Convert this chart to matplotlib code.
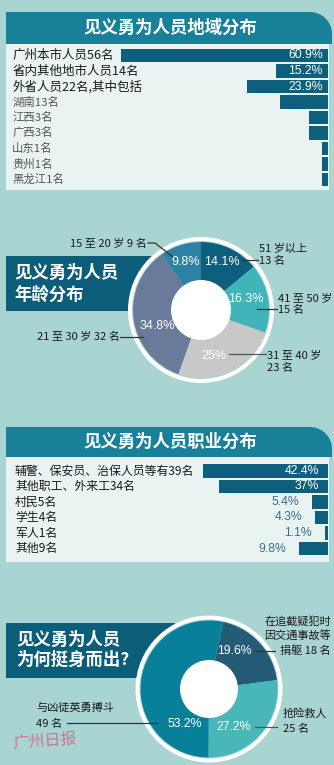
import numpy as np
import matplotlib
matplotlib.use('Agg')
import matplotlib.pyplot as plt
from matplotlib.patches import Rectangle, Circle, Polygon
from matplotlib.transforms import blended_transform_factory

plt.rcParams['font.family'] = ['Noto Sans CJK SC', 'DejaVu Sans']

W, H = 334, 765

BG = '#a8d4d2'
LIGHT = '#e8f3f2'
BAND = '#19809a'
BAR = '#0e5f7b'
BOX = '#0b5d7a'
TXT = '#1a1a1a'
NUM = ['Liberation Sans', 'DejaVu Sans']

# 见义勇为人员地域分布
region_labels = ['广州本市人员56名', '省内其他地市人员14名', '外省人员22名,其中包括',
                 '湖南13名', '江西3名', '广西3名', '山东1名', '贵州1名', '黑龙江1名']
region_bar = [60.9, 15.2, 23.9, 14.1, 5.5, 5.5, 1.8, 1.8, 1.8]
region_pct = ['60.9%', '15.2%', '23.9%', '', '', '', '', '', '']
region_main = [True, True, True, False, False, False, False, False, False]

# 见义勇为人员年龄分布
age_vals = [14.1, 16.3, 25.0, 34.8, 9.8]
age_pct = ['14.1%', '16.3%', '25%', '34.8%', '9.8%']
age_labels = ['51 岁以上\n13 名', '41 至 50 岁\n15 名', '31 至 40 岁\n23 名',
              '21 至 30 岁 32 名', '15 至 20 岁 9 名']
age_colors = ['#0d5f7d', '#40b4b8', '#c8c8c8', '#6a7a9b', '#2c82a3']

# 见义勇为人员职业分布
job_labels = ['辅警、保安员、治保人员等有39名', '其他职工、外来工34名', '村民5名',
              '学生4名', '军人1名', '其他9名']
job_vals = [42.4, 37.0, 5.4, 4.3, 1.1, 9.8]
job_pct = ['42.4%', '37%', '5.4%', '4.3%', '1.1%', '9.8%']

# 见义勇为人员为何挺身而出
why_vals = [19.6, 27.2, 53.2]
why_pct = ['19.6%', '27.2%', '53.2%']
why_labels = ['在追截疑犯时\n因交通事故等\n捐躯 18 名', '抢险救人\n25 名', '与凶徒英勇搏斗\n49 名']
why_colors = ['#235c74', '#48b7ba', '#09809a']


def fig_rect(x0, y0, x1, y1):
    # pixel box (y down) -> figure fraction
    return [x0 / W, 1 - y1 / H, (x1 - x0) / W, (y1 - y0) / H]


def band(ax, x0, y0, x1, y1, r=22):
    t = np.linspace(np.pi / 2, 0, 20)
    arc = np.column_stack([x1 - r + r * np.cos(t), y0 + r - r * np.sin(t)])
    pts = np.vstack([[x0, y1], [x0, y0], arc, [x1, y1]])
    ax.add_patch(Polygon(pts, closed=True, color=BAND, lw=0))


fig = plt.figure(figsize=(W / 100, H / 100), dpi=100, facecolor=BG)

# background layer: bands, panels, title boxes
bg = fig.add_axes([0, 0, 1, 1])
bg.set_xlim(0, W)
bg.set_ylim(H, 0)
bg.axis('off')

bg.add_patch(Rectangle((6, 44), 323, 146, color=LIGHT, lw=0))
band(bg, 6, 12, 332, 44)
bg.text(170, 28, '见义勇为人员地域分布', color='white', fontsize=12.5, fontweight='bold',
        ha='center', va='center')

bg.add_patch(Rectangle((6, 457), 323, 105, color=LIGHT, lw=0))
band(bg, 6, 427, 332, 457)
bg.text(170, 442, '见义勇为人员职业分布', color='white', fontsize=12.5, fontweight='bold',
        ha='center', va='center')

bg.add_patch(Rectangle((6, 256), 154, 55, color=BOX, lw=0))
bg.text(14, 273, '见义勇为人员', color='white', fontsize=12.5, fontweight='bold', va='center')
bg.text(14, 295, '年龄分布', color='white', fontsize=12.5, fontweight='bold', va='center')

bg.add_patch(Rectangle((6, 623), 169, 55, color=BOX, lw=0))
bg.text(16, 640, '见义勇为人员', color='white', fontsize=12.5, fontweight='bold', va='center')
bg.text(16, 660, '为何挺身而出?', color='white', fontsize=12.5, fontweight='bold', va='center')

bg.text(12, 741, '广州日报', color='#d8607a', fontsize=11.5, alpha=0.8, va='center',
        rotation=4)


def bar_panel(row0, n, xmax):
    step = 15.5
    ax = fig.add_axes(fig_rect(6, row0 - step / 2, 328, row0 + step * (n - 0.5)))
    ax.set_xlim(xmax, 0)
    ax.set_ylim(n - 0.5, -0.5)
    ax.axis('off')
    return ax


# panel 1
ax1 = bar_panel(55.5, len(region_labels), 322 / 3.4)
ax1.barh(range(len(region_bar)), region_bar, height=0.84, color=BAR, lw=0)
tr1 = blended_transform_factory(ax1.transAxes, ax1.transData)
for i, (lab, main) in enumerate(zip(region_labels, region_main)):
    if main:
        ax1.text(0.019, i, lab, transform=tr1, fontsize=9, color=TXT, va='center')
    else:
        ax1.text(0.019, i, lab, transform=tr1, fontsize=8.2, color='#555555', va='center')
    if region_pct[i]:
        ax1.text(1.5, i, region_pct[i], fontsize=8.8, color='white', ha='right',
                 va='center', family=NUM)

# panel 3
ax3 = bar_panel(471, len(job_labels), 322 / 2.95)
ax3.barh(range(len(job_vals)), job_vals, height=0.84, color=BAR, lw=0)
tr3 = blended_transform_factory(ax3.transAxes, ax3.transData)
for i, (lab, v) in enumerate(zip(job_labels, job_vals)):
    ax3.text(0.028, i, lab, transform=tr3, fontsize=8.6, color=TXT, va='center')
    if v > 20:
        ax3.text(3.0, i, job_pct[i], fontsize=8.8, color='white', ha='right',
                 va='center', family=NUM)
    else:
        ax3.text(v + 4.5, i, job_pct[i], fontsize=8.8, color='#3b6e8c', ha='right',
                 va='center', family=NUM)


def donut(cx, cy, R, hole, vals, colors, start):
    ax = fig.add_axes(fig_rect(cx - 80, cy - 80, cx + 80, cy + 80))
    ax.add_patch(Circle((0, 0), R + 5, color='white', lw=0))
    ax.add_patch(Circle((0, 0), R + 1, color=BG, lw=0))
    ax.add_patch(Circle((0, 0), hole + 1, color='white', lw=0, zorder=3))
    ax.pie(vals, colors=colors, radius=R, startangle=start, counterclock=False,
           wedgeprops=dict(width=R - hole, linewidth=0))
    ax.set_xlim(-80, 80)
    ax.set_ylim(-80, 80)
    ax.axis('off')
    return ax


def outer_label(ax, x, y, text, ha='left', step=13):
    for k, line in enumerate(text.split('\n')):
        ax.text(x, y - k * step, line, fontsize=8, color=TXT, ha=ha, va='center')


def leader(ax, xs, ys, color='#333333'):
    ax.plot(xs, ys, color=color, lw=0.9, clip_on=False)


# panel 2
ax2 = donut(201, 310, 68, 29, age_vals, age_colors, 90)
age_pct_pos = [(21, 48), (45, 11), (13, -46), (-44, -16), (-15.5, 48)]
for (x, y), t in zip(age_pct_pos, age_pct):
    ax2.text(x, y, t, fontsize=9, color='white', ha='center', va='center', family=NUM)
outer_label(ax2, 58, 62, age_labels[0])
leader(ax2, [41, 57], [50, 50])
outer_label(ax2, 77, 12, age_labels[1], step=12)
leader(ax2, [56, 76], [1, 1])
outer_label(ax2, 66, -45, age_labels[2])
leader(ax2, [28, 65], [-44, -44], color='#555555')
outer_label(ax2, -81, -27, age_labels[3], ha='right')
leader(ax2, [-81, -58], [-27, -27])
outer_label(ax2, -54, 66, age_labels[4], ha='right')
leader(ax2, [-53, -46, -28], [67, 67, 53])

# panel 4
ax4 = donut(209, 689, 68.5, 28, why_vals, why_colors, 78)
why_pct_pos = [(25, 38), (25, -38), (-24, -35)]
for (x, y), t in zip(why_pct_pos, why_pct):
    ax4.text(x, y, t, fontsize=8.8, color='white', ha='center', va='center', family=NUM)
outer_label(ax4, 122, 68, why_labels[0], ha='right', step=15)
leader(ax4, [46, 66], [38, 38])
outer_label(ax4, 74, -25, why_labels[1], step=15)
leader(ax4, [46, 68], [-38, -38], color='#555555')
outer_label(ax4, -173, -19, why_labels[2], step=16)
leader(ax4, [-142, -52], [-34, -34])

fig.savefig('out.png', dpi=100, facecolor=BG)
